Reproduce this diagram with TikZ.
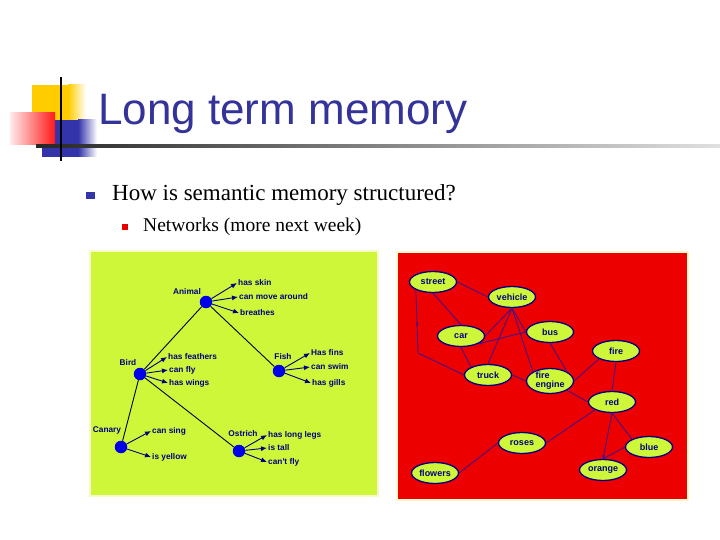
\documentclass[tikz,border=0pt]{standalone}
\usepackage{fontspec}
\setmainfont{Liberation Serif}
\newfontfamily\arial{Liberation Sans}
\usetikzlibrary{arrows.meta,shapes.geometric,decorations.markings}
\definecolor{titleblue}{RGB}{51,51,153}
\definecolor{bulblue}{RGB}{51,51,170}
\definecolor{gold}{RGB}{255,204,0}
\definecolor{lime}{RGB}{206,247,58}
\definecolor{panelred}{RGB}{236,0,0}
\definecolor{paleedge}{RGB}{250,250,200}
\definecolor{navy}{RGB}{0,0,128}
\definecolor{edgenavy}{RGB}{50,20,150}
\definecolor{dotblue}{RGB}{0,0,230}
\tikzset{
  dot/.style={circle,fill=dotblue,inner sep=0pt,minimum size=12.5pt},
  sem/.style={font=\arial\bfseries\fontsize{8.3}{10}\selectfont,text=navy,inner sep=1pt},
  feat/.style={sem,anchor=west},
  link/.style={draw=black!70!navy,line width=0.9pt},
  prop/.style={draw=navy,line width=0.9pt,-{Latex[length=6pt,width=5pt]}},
  ell/.style={ellipse,draw=navy,line width=1.3pt,fill=lime,minimum width=47pt,minimum height=21pt,inner sep=0pt,
    font=\arial\bfseries\fontsize{9}{9}\selectfont,text=navy},
  net/.style={draw=edgenavy,line width=0.8pt},
}
\begin{document}
\begin{tikzpicture}[x=1pt,y=-1pt]
\useasboundingbox (0,0) rectangle (720,540);
\fill[white] (0,0) rectangle (720,540);
% title decoration
\fill[gold] (32,85) rectangle (68,120);
\shade[left color=gold,right color=white] (68,85) rectangle (86,120);
\fill[bulblue] (42,120) rectangle (78,157);
\shade[left color=bulblue,right color=white] (78,120) rectangle (97,157);
\shade[left color=red!8,right color=red!90] (10,113) rectangle (55,145);
\shade[left color=black!85,right color=black!12] (36,144.5) rectangle (720,147.5);
\draw[black,line width=2.5pt] (61,77) -- (61,161);
\node[anchor=base west,inner sep=0pt,font=\arial\fontsize{44}{46}\selectfont,text=titleblue] (title) at (98,125) {Long term memory};
% bullets
\fill[bulblue] (86,192) rectangle (95,199);
\node[anchor=base west,inner sep=0pt,font=\fontsize{23}{25}\selectfont] (b1) at (112,201) {How is semantic memory structured?};
\fill[red!90!black] (122,224) rectangle (128,230);
\node[anchor=base west,inner sep=0pt,font=\fontsize{19.5}{21}\selectfont] (b2) at (143,231) {Networks (more next week)};
% left panel
\draw[paleedge,line width=1.5pt,fill=lime] (90,251) rectangle (378,496);
\node[dot] (animal) at (206,302) {};
\node[dot] (bird) at (140,374) {};
\node[dot] (fish) at (279,371) {};
\node[dot] (canary) at (121,447) {};
\node[dot] (ostrich) at (239,451) {};
\node[sem] (lanimal) at (187,292) {Animal};
\node[sem] (lbird) at (128,363) {Bird};
\node[sem] (lfish) at (283,357) {Fish};
\node[sem] (lcanary) at (107,430) {Canary};
\node[sem] (lostrich) at (243,434) {Ostrich};
\draw[link] (animal) -- (bird);
\draw[link] (animal) -- (fish);
\draw[link] (bird) -- (canary);
\draw[link] (bird) -- (ostrich);
\node[feat] (a1) at (237,283) {has skin};
\node[feat] (a2) at (238,297) {can move around};
\node[feat] (a3) at (239,313) {breathes};
\node[feat] (b1f) at (167,357) {has feathers};
\node[feat] (b2f) at (168,370) {can fly};
\node[feat] (b3f) at (168,383) {has wings};
\node[feat] (f1) at (310,353) {Has fins};
\node[feat] (f2) at (310,367) {can swim};
\node[feat] (f3) at (311,383) {has gills};
\node[feat] (c1) at (151,431) {can sing};
\node[feat] (c2) at (151,457) {is yellow};
\node[feat] (o1) at (267,435) {has long legs};
\node[feat] (o2) at (267,448) {is tall};
\node[feat] (o3) at (267,462) {can't fly};
\foreach \s/\t in {animal/a1,animal/a2,animal/a3,bird/b1f,bird/b2f,bird/b3f,fish/f1,fish/f2,fish/f3,canary/c1,canary/c2,ostrich/o1,ostrich/o2,ostrich/o3}
  \draw[prop] (\s) -- (\t.west);
% right panel
\draw[paleedge,line width=1.5pt,fill=panelred] (397,252) rectangle (688,500);
\node[ell] (street) at (433,282) {street};
\node[ell] (vehicle) at (512,297) {vehicle};
\node[ell] (car) at (461,336) {car};
\node[ell] (bus) at (550,332) {bus};
\node[ell] (fire) at (616,351) {fire};
\node[ell] (truck) at (488,375) {truck};
\node[ell,minimum height=25pt,inner ysep=-6pt,align=left] (engine) at (550,381) {fire\\engine};
\node[ell] (red) at (612,402) {red};
\node[ell] (roses) at (522,443) {roses};
\node[ell] (blue) at (649,447) {blue};
\node[ell] (flowers) at (435,473) {flowers};
\node[ell] (orange) at (603,470) {orange};
\coordinate (corner) at (418,353);
\draw[net] (street.east) -- (vehicle.west);
\draw[net] (street.south) -- (car.north);
\draw[net,postaction={decorate},decoration={markings,mark=at position 0.5 with {\arrow{Stealth[length=4pt,width=3pt]}}}] (corner) -- (street.south west);
\draw[net] (corner) -- (truck.west);
\draw[net] (vehicle.south) -- (car.east);
\draw[net] (vehicle.south) -- (truck.north);
\draw[net] (vehicle.south) -- (engine.north west);
\draw[net] (vehicle.south) -- (bus.west);
\draw[net,-{Stealth[length=4pt,width=3pt]}] (bus.west) -- (car.south east);
\draw[net] (car.south) -- (truck.north west);
\draw[net] (truck.east) -- (engine.west);
\draw[net] (bus.south) -- (engine.north east);
\draw[net] (fire.south west) -- (engine.east);
\draw[net] (engine.south east) -- (red.west);
\draw[net] (fire.south) -- (red.north);
\draw[net] (red.south west) -- (roses.east);
\draw[net,-{Stealth[length=4pt,width=3pt]}] (red.south) -- (orange.north);
\draw[net] (red.south) -- (blue.north west);
\draw[net] (blue.west) -- (orange.north);
\draw[net] (roses.west) -- (flowers.east);
\end{tikzpicture}
\end{document}
